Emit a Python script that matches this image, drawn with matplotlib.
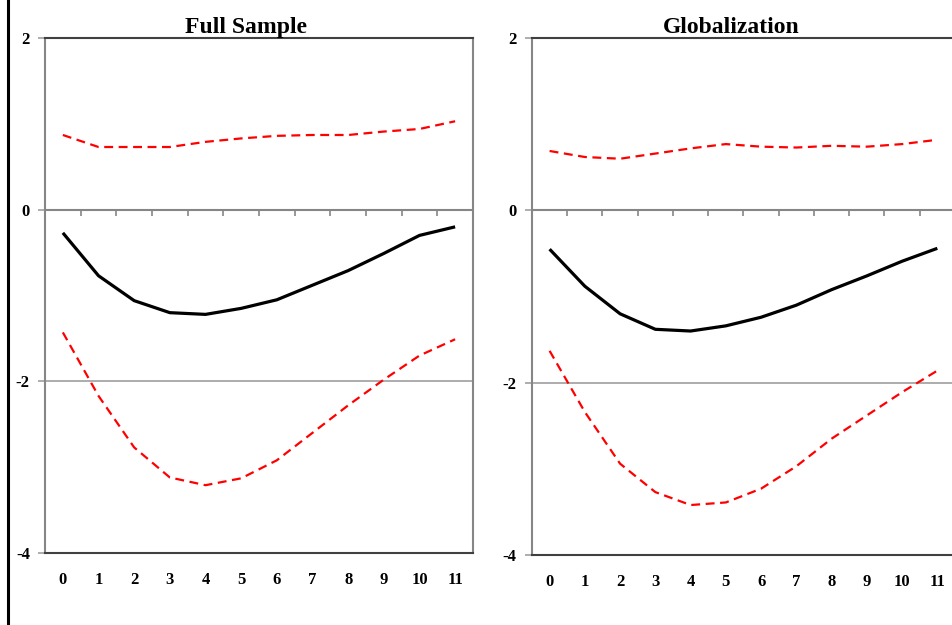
import numpy as np
import matplotlib
matplotlib.use("Agg")
import matplotlib.pyplot as plt
from matplotlib.lines import Line2D

horizons = list(range(12))

full_irf = [-0.27, -0.77, -1.06, -1.20, -1.22, -1.15, -1.05, -0.88, -0.71, -0.51, -0.30, -0.20]
full_upper = [0.87, 0.73, 0.73, 0.73, 0.79, 0.83, 0.86, 0.87, 0.87, 0.91, 0.94, 1.03]
full_lower = [-1.43, -2.17, -2.77, -3.12, -3.21, -3.13, -2.92, -2.60, -2.28, -1.98, -1.70, -1.51]

glob_irf = [-0.45, -0.88, -1.20, -1.38, -1.40, -1.34, -1.24, -1.10, -0.92, -0.76, -0.59, -0.44]
glob_upper = [0.69, 0.62, 0.60, 0.66, 0.72, 0.77, 0.74, 0.73, 0.75, 0.74, 0.77, 0.82]
glob_lower = [-1.63, -2.34, -2.94, -3.27, -3.42, -3.39, -3.23, -2.97, -2.65, -2.38, -2.11, -1.86]

titles = ["Full Sample", "Globalization"]
yticks = [-4, -2, 0, 2]

serif = ["Liberation Serif", "DejaVu Serif"]

fig = plt.figure(figsize=(9.52, 6.25), dpi=100)
positions = [[0.0473, 0.1152, 0.4495, 0.824],
             [0.5588, 0.1120, 0.4443, 0.827]]
panels = [(full_irf, full_upper, full_lower), (glob_irf, glob_upper, glob_lower)]

for pos, (irf, up, lo), title in zip(positions, panels, titles):
    ax = fig.add_axes(pos)
    x = np.array(horizons)
    ax.plot(x, up, color="red", lw=1.6, ls=(0, (4, 2.5)), zorder=3)
    ax.plot(x, lo, color="red", lw=1.6, ls=(0, (4, 2.5)), zorder=3)
    ax.plot(x, irf, color="black", lw=2.3, zorder=4, solid_capstyle="butt")

    ax.set_xlim(-0.5, 11.5)
    ax.set_ylim(-4, 2)
    ax.set_yticks(yticks)
    ax.set_yticklabels([str(v) for v in yticks], fontfamily=serif,
                       fontweight="bold", fontsize=12)
    ax.set_xticks(x)
    ax.set_xticklabels([str(v) for v in horizons], fontfamily=serif,
                       fontweight="bold", fontsize=12)
    ax.tick_params(axis="x", length=0, pad=14)
    ax.tick_params(axis="y", length=5, width=1.2, color="#a0a0a0", pad=6, direction="out")

    # gridline and axis line at zero
    ax.axhline(-2, color="#a6a6a6", lw=1.3, zorder=1)
    ax.axhline(0, color="#868686", lw=1.5, zorder=2)
    bounds = x[:-1] + 0.5
    ax.vlines(bounds, -0.07, 0, color="#868686", lw=1.2, zorder=2)

    for side in ["left", "right"]:
        ax.spines[side].set_color("#868686")
        ax.spines[side].set_linewidth(1.5)
    for side in ["top", "bottom"]:
        ax.spines[side].set_color("#404040")
        ax.spines[side].set_linewidth(1.5)

    ax.set_title(title, fontfamily=serif, fontweight="bold", fontsize=17,
                 pad=3, x=0.47)

fig.add_artist(Line2D([0.0085, 0.0085], [0, 1], transform=fig.transFigure,
                      color="black", lw=2.2))

fig.savefig("out.png", dpi=100)
